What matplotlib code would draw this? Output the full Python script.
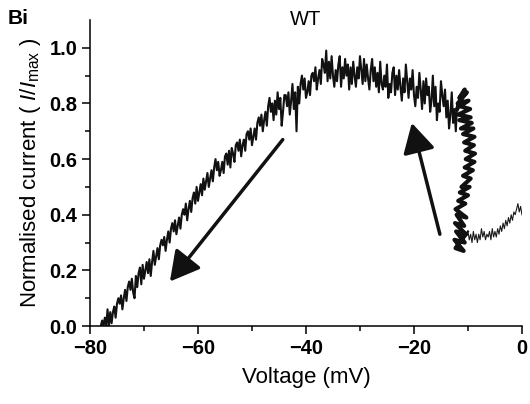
import numpy as np
import matplotlib
matplotlib.use("Agg")
import matplotlib.pyplot as plt

plt.rcParams['font.family'] = ['Liberation Sans', 'DejaVu Sans']
plt.rcParams['mathtext.fontset'] = 'custom'
plt.rcParams['mathtext.rm'] = 'Liberation Sans'
plt.rcParams['mathtext.it'] = 'Liberation Sans:italic'

# ---- data ----
# thin segment: voltage 0 -> -10 mV, 0.25 mV steps
thin_v = np.arange(0, -10.01, -0.25)
thin_i = [0.40, 0.43, 0.41, 0.44, 0.42, 0.40, 0.41, 0.38, 0.40, 0.37,
          0.39, 0.36, 0.38, 0.35, 0.37, 0.34, 0.36, 0.33, 0.35, 0.32,
          0.34, 0.32, 0.35, 0.31, 0.34, 0.32, 0.33, 0.31, 0.34, 0.32,
          0.35, 0.31, 0.33, 0.30, 0.33, 0.31, 0.34, 0.30, 0.33, 0.31,
          0.34]

# near-vertical band around -10 mV
band_v = [-10.4, -12.3, -10.8, -12.5, -10.6, -12.2, -10.4, -12.4, -10.7, -12.1,
          -10.3, -12.3, -10.5, -11.8, -10.0, -11.5, -9.7, -11.2, -9.5, -10.9,
          -9.1, -10.6, -8.8, -10.4, -8.7, -10.5, -8.9, -10.7, -8.8, -10.9,
          -9.0, -11.3, -9.3, -11.6, -9.5, -11.8, -9.6, -11.5, -9.9, -11.9,
          -10.2, -11.6, -10.6, -12.0]
band_i = [0.33, 0.28, 0.27, 0.31, 0.30, 0.34, 0.33, 0.37, 0.36, 0.40,
          0.39, 0.42, 0.44, 0.45, 0.47, 0.48, 0.50, 0.50, 0.53, 0.54,
          0.56, 0.57, 0.59, 0.60, 0.62, 0.63, 0.65, 0.66, 0.68, 0.69,
          0.71, 0.71, 0.73, 0.74, 0.75, 0.76, 0.78, 0.79, 0.81, 0.80,
          0.84, 0.82, 0.85, 0.78]

# arch and descending leg: -12 -> -78 mV, 0.25 mV steps (values in hundredths)
arch_v = np.arange(-12, -78.01, -0.25)
arch_i_pct = [
    80, 70, 78, 73,  84, 76, 71, 81,  75, 85, 79, 83,  88, 77, 80, 74,
    86, 79, 90, 81,  77, 86, 83, 89,  80, 88, 78, 85,  91, 82, 86, 79,
    83, 92, 85, 89,  82, 88, 94, 84,  89, 81, 86, 92,  85, 90, 83, 93,
    91, 84, 87, 82,  94, 86, 90, 85,  87, 95, 84, 91,  86, 93, 88, 96,
    92, 85, 89, 94,  88, 96, 87, 92,  97, 89, 93, 86,  90, 95, 87, 93,
    85, 94, 90, 96,  89, 93, 86, 97,  94, 88, 92, 86,  90, 97, 89, 95,
    88, 99, 91, 94,  96, 87, 92, 89,  85, 93, 88, 91,  90, 83, 88, 84,
    82, 89, 85, 90,  87, 80, 86, 70,  84, 78, 87, 81,  76, 84, 79, 83,
    83, 77, 72, 82,  78, 84, 76, 81,  74, 80, 77, 82,  79, 72, 77, 74,
    70, 76, 72, 75,  73, 67, 71, 68,  65, 71, 67, 70,  69, 63, 67, 65,
    61, 67, 63, 66,  65, 59, 62, 64,  57, 63, 58, 62,  61, 55, 59, 56,
    54, 59, 56, 60,  57, 52, 56, 53,  50, 55, 52, 49,  53, 47, 51, 48,
    45, 50, 44, 48,  46, 41, 45, 42,  38, 44, 40, 42,  40, 35, 39, 36,
    33, 38, 34, 37,  35, 30, 34, 31,  27, 32, 29, 31,  29, 24, 28, 25,
    22, 27, 23, 18,  24, 19, 23, 20,  17, 22, 15, 21,  19, 14, 18, 10,
    12, 17, 13, 16,  14, 9, 13, 10,  6, 11, 8, 10,  8, 3, 7, 5,
    1, 5, 0, 6,  0, 3, 0, 2,  0]
arch_i = np.array(arch_i_pct) / 100.0

# arrows (tail -> tip), data coordinates
arrow_down = ((-44.3, 0.67), (-65.2, 0.16))
arrow_up = ((-15.2, 0.33), (-20.4, 0.73))

x_ticks = [-80, -60, -40, -20, 0]
y_ticks = [0.0, 0.2, 0.4, 0.6, 0.8, 1.0]

# ---- figure ----
fig = plt.figure(figsize=(5.30, 4.04), dpi=100)
ax = fig.add_axes([0.1698, 0.193, 0.815, 0.7575])

ax.plot(thin_v, thin_i, color='#1a1a1a', lw=0.8)
ax.plot(band_v, band_i, color='#111111', lw=3.0, solid_joinstyle='round')
ax.plot(np.concatenate([[thin_v[-1]], band_v, arch_v]),
        np.concatenate([[thin_i[-1]], band_i, arch_i]),
        color='#111111', lw=1.5)

for (tail, tip) in (arrow_down, arrow_up):
    ax.annotate('', xy=tip, xytext=tail,
                arrowprops=dict(arrowstyle='-|>,head_length=1.0,head_width=0.55',
                                mutation_scale=18, lw=2.5, color='#111111',
                                shrinkA=0, shrinkB=0))

ax.set_xlim(-80, 0)
ax.set_ylim(0, 1.1)
ax.set_xticks(x_ticks)
ax.set_yticks(y_ticks)
ax.set_xticks([-70, -50, -30, -10], minor=True)
ax.set_yticks([0.1, 0.3, 0.5, 0.7, 0.9], minor=True)
ax.set_xticklabels([f'\u2212{abs(t)}' if t != 0 else '0' for t in x_ticks],
                   fontweight='bold', fontsize=14.5)
ax.set_yticklabels([f'{t:.1f}' for t in y_ticks], fontweight='bold', fontsize=14.5)
ax.tick_params(which='major', direction='out', length=6, width=1.1, pad=3)
ax.tick_params(which='minor', direction='out', length=3.5, width=1.1)

for s in ('top', 'right'):
    ax.spines[s].set_visible(False)
for s in ('left', 'bottom'):
    ax.spines[s].set_linewidth(1.1)

ax.set_xlabel('Voltage (mV)', fontsize=16, labelpad=7)
ax.set_ylabel(r'Normalised current ( $\mathit{I}$/$\mathit{I}_{\mathrm{max}}$ )', fontsize=16, labelpad=5)

ax.text(0.5, 1.0, 'WT', transform=ax.transAxes, ha='center', va='center', fontsize=14.5)
fig.text(0.015, 0.955, 'Bi', fontweight='bold', fontsize=15, ha='left', va='center')

fig.savefig('out.png', dpi=100)
